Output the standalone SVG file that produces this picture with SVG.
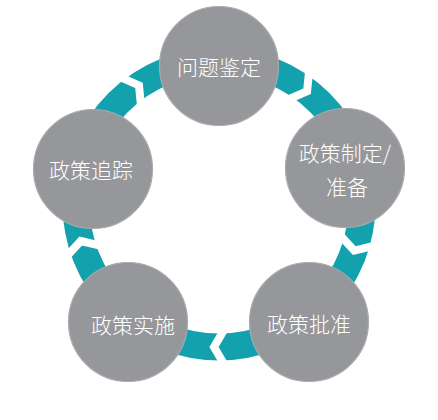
<svg xmlns="http://www.w3.org/2000/svg" width="438" height="420" viewBox="0 0 438 420">
  <style>
    .ring { fill: none; stroke: #13a1ae; stroke-width: 27; }
    .gap { fill: none; stroke: #ffffff; stroke-width: 8; stroke-linejoin: miter; stroke-miterlimit: 10; }
    .node circle { fill: #96979a; stroke: #a9aaac; stroke-width: 1.2; }
    .node text { fill: #ffffff; font-family: "Noto Sans CJK SC", "Noto Sans", sans-serif; font-size: 21px; font-weight: 300; text-anchor: middle; }
  </style>
  <defs>
    <polyline id="chev" class="gap" points="166,-8.5 143,5 120,-8.5"/>
  </defs>
  <rect x="0" y="0" width="438" height="420" fill="#ffffff"/>
  <g id="connectors">
    <circle class="ring" cx="219" cy="204" r="143"/>
    <g transform="translate(219 204)">
      <use href="#chev" transform="rotate(-126)"/>
      <use href="#chev" transform="rotate(-54)"/>
      <use href="#chev" transform="rotate(17)"/>
      <use href="#chev" transform="rotate(90)"/>
      <use href="#chev" transform="rotate(163)"/>
    </g>
  </g>
  <g id="node-wentijianding" class="node">
    <circle cx="219" cy="66" r="59.5"/>
    <text x="219" y="75">问题鉴定</text>
  </g>
  <g id="node-zhidingzhunbei" class="node">
    <circle cx="345" cy="168" r="59.5"/>
    <text x="345" y="161">政策制定/</text>
    <text x="347" y="195">准备</text>
  </g>
  <g id="node-pizhun" class="node">
    <circle cx="309" cy="322" r="59.5"/>
    <text x="309" y="332">政策批准</text>
  </g>
  <g id="node-shishi" class="node">
    <circle cx="128" cy="322" r="59.5"/>
    <text x="133" y="333">政策实施</text>
  </g>
  <g id="node-zhuizong" class="node">
    <circle cx="93" cy="169" r="59.5"/>
    <text x="91" y="178">政策追踪</text>
  </g>
</svg>
